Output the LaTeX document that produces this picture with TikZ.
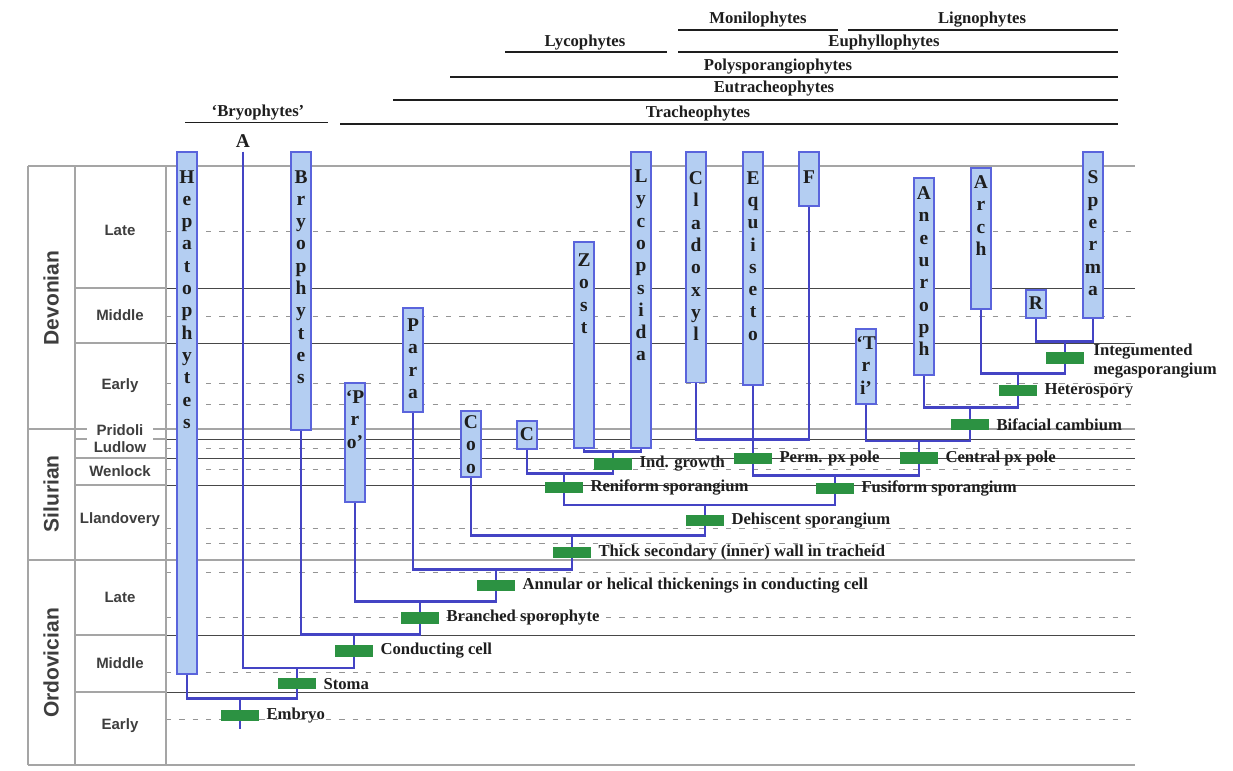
\documentclass[tikz,border=0pt]{standalone}
\usepackage{fontspec}
\setmainfont{Liberation Serif}
\setsansfont{Liberation Sans}
\definecolor{stemblue}{RGB}{68,68,196}
\definecolor{boxblue}{RGB}{90,100,220}
\definecolor{boxfill}{RGB}{180,206,242}
\definecolor{mkgreen}{RGB}{44,146,66}
\definecolor{gridgray}{RGB}{165,165,165}
\definecolor{inkdark}{RGB}{30,30,30}
\definecolor{colgray}{RGB}{62,62,62}
\newcommand\taxonbox[6]{%
  \pgfmathsetmacro\tbh{(#4-#3)*0.75}%
  \node[tbox, minimum height=\tbh pt, anchor=north] (#1) at (#2,#3) {};
  \foreach \ltr [count=\nn from 0] in {#6}{%
    \node[tlet] at (#2,#5+6.5+\nn*22.3) {\ltr};
  }%
}
\begin{document}
\begin{tikzpicture}[x=0.75pt,y=-0.75pt,
  stem/.style={draw=stemblue, line width=2.2pt},
  tbox/.style={draw=boxblue, fill=boxfill, line width=1.3pt, minimum width=15pt, inner sep=0pt},
  tlet/.style={font=\bfseries\fontsize{14.6}{16}\selectfont, anchor=base, inner sep=0pt, text=inkdark},
  mk/.style={fill=mkgreen, minimum width=28.5pt, minimum height=8.6pt, inner sep=0pt},
  lab/.style={font=\bfseries\fontsize{12.5}{14.25}\selectfont, anchor=west, inner sep=0pt, xshift=5.25pt, text=inkdark},
  hdr/.style={font=\bfseries\fontsize{12.5}{15}\selectfont, inner sep=0pt, text=inkdark},
  hline/.style={draw=inkdark, line width=1.1pt},
  gthick/.style={draw=gridgray, line width=2.2pt},
  gcol/.style={draw=gridgray, line width=1.6pt},
  gthin/.style={draw=black!72, line width=0.7pt},
  gdash/.style={draw=black!42, line width=0.7pt, dash pattern=on 4pt off 6pt},
  eplab/.style={font=\sffamily\bfseries\fontsize{11.25}{13}\selectfont, text=colgray},
  perlab/.style={font=\sffamily\bfseries\fontsize{15.75}{18}\selectfont, text=colgray, rotate=90}
]
\useasboundingbox (0,0) rectangle (1233,771);
\fill[white] (0,0) rectangle (1233,771);

% ---------------- time grid ----------------
\foreach \yy in {231,316,383,404,448,469,528,543,572,617,672,719}
  \draw[gdash] (166,\yy) -- (1135,\yy);
\foreach \yy in {288,343,439,458,485,635,692}{
  \draw[gcol] (75,\yy) -- (166,\yy);
  \draw[gthin] (166,\yy) -- (1135,\yy);
}
\foreach \yy in {166,429,560,765}
  \draw[gthick] (28,\yy) -- (1135,\yy);
\foreach \xx in {28,75,166}
  \draw[gcol] (\xx,166) -- (\xx,765);

\node[perlab] (pDev) at (51,298) {Devonian};
\node[perlab] (pSil) at (51,494) {Silurian};
\node[perlab] (pOrd) at (51,663) {Ordovician};
\node[eplab] (eDL) at (120,230) {Late};
\node[eplab] (eDM) at (120,315) {Middle};
\node[eplab] (eDE) at (120,386) {Early};
\node[eplab, fill=white, inner xsep=7.5pt, inner ysep=3.5pt] (ePr) at (120,430.5) {Pridoli};
\node[eplab] (eLu) at (120,447) {Ludlow};
\node[eplab] (eWe) at (120,471) {Wenlock};
\node[eplab] (eLl) at (120,520) {Llandovery};
\node[eplab] (eOL) at (120,597) {Late};
\node[eplab] (eOM) at (120,663) {Middle};
\node[eplab] (eOE) at (120,726) {Early};

% ---------------- clade headers ----------------
\node[hdr] (hBry) at (258,113) {‘Bryophytes’};
\draw[hline] (185,122.5) -- (328,122.5);
\node[hdr] (hLyc) at (585,43) {Lycophytes};
\draw[hline] (505,52) -- (667,52);
\node[hdr] (hMon) at (758,19.5) {Monilophytes};
\draw[hline] (678,30) -- (838,30);
\node[hdr] (hLig) at (982,19.5) {Lignophytes};
\draw[hline] (848,30) -- (1118,30);
\node[hdr] (hEup) at (884,42.6) {Euphyllophytes};
\draw[hline] (678,52) -- (1118,52);
\node[hdr] (hPol) at (778,67) {Polysporangiophytes};
\draw[hline] (450,77) -- (1118,77);
\node[hdr] (hEut) at (774,89) {Eutracheophytes};
\draw[hline] (393,100) -- (1118,100);
\node[hdr] (hTra) at (698,113.5) {Tracheophytes};
\draw[hline] (340,124) -- (1118,124);

% ---------------- internal nodes ----------------
\coordinate (root) at (240,728.6);
\coordinate (emb) at (240,698.5);
\coordinate (sto) at (297,668);
\coordinate (con) at (354,634.7);
\coordinate (bra) at (420,601.7);
\coordinate (ann) at (496,569.7);
\coordinate (thi) at (572,535.2);
\coordinate (deh) at (705,505);
\coordinate (ren) at (564,473.5);
\coordinate (ind) at (613,451.8);
\coordinate (cf) at (753,439.6);
\coordinate (fus) at (835,475.3);
\coordinate (cen) at (919,441);
\coordinate (bif) at (970,407.3);
\coordinate (het) at (1018,373.5);
\coordinate (int) at (1065,341.8);
\node[tlet, anchor=center] (alab) at (243,141.5) {A};
\coordinate (atop) at (243,151.5);

% ---------------- taxon boxes ----------------
\taxonbox{hep}{187}{151}{673}{176.5}{H,e,p,a,t,o,p,h,y,t,e,s}
\taxonbox{bryo}{301}{151}{429}{176.5}{B,r,y,o,p,h,y,t,e,s}
\taxonbox{pro}{355}{382}{501}{397}{‘P,r,o’}
\taxonbox{para}{413}{307}{411}{325}{P,a,r,a}
\taxonbox{coo}{471}{410}{476}{422}{C,o,o}
\taxonbox{cbox}{527}{420}{448}{434}{C}
\taxonbox{zost}{584}{241}{447}{260}{Z,o,s,t}
\taxonbox{lyc}{641}{151}{447}{176}{L,y,c,o,p,s,i,d,a}
\taxonbox{clad}{696}{151}{381.5}{178}{C,l,a,d,o,x,y,l}
\taxonbox{equi}{753}{151}{384}{177.6}{E,q,u,i,s,e,t,o}
\taxonbox{fbox}{809}{151}{205}{177}{F}
\taxonbox{tri}{866}{328}{403}{343}{‘T,r,i’}
\taxonbox{aneu}{924}{177}{374}{193}{A,n,e,u,r,o,p,h}
\taxonbox{arch}{981}{167}{308}{182}{A,r,c,h}
\taxonbox{rbox}{1036}{289}{317}{303}{R}
\taxonbox{sperma}{1093}{151}{317}{177.4}{S,p,e,r,m,a}

% ---------------- tree connectors ----------------
\draw[stem] (emb) -- (root);
\draw[stem] (hep.south) |- (emb) -| (sto);
\draw[stem] (atop) |- (sto) -| (con);
\draw[stem] (bryo.south) |- (con) -| (bra);
\draw[stem] (pro.south) |- (bra) -| (ann);
\draw[stem] (para.south) |- (ann) -| (thi);
\draw[stem] (coo.south) |- (thi) -| (deh);
\draw[stem] (ren) |- (deh) -| (fus);
\draw[stem] (cbox.south) |- (ren) -| (ind);
\draw[stem] (zost.south) |- (ind) -| (lyc.south);
\draw[stem] (clad.south) |- (cf) -| (fbox.south);
\draw[stem] (equi.south) |- (fus) -| (cen);
\draw[stem] (tri.south) |- (cen) -| (bif);
\draw[stem] (aneu.south) |- (bif) -| (het);
\draw[stem] (arch.south) |- (het) -| (int);
\draw[stem] (rbox.south) |- (int) -| (sperma.south);

% ---------------- character markers ----------------
\node[mk] (mEmb) at (240,715.6) {};  \node[lab] (lEmb) at (mEmb.east) {Embryo};
\node[mk] (mSto) at (297,683.7) {};  \node[lab] (lSto) at (mSto.east) {Stoma};
\node[mk] (mCon) at (354,650.8) {};  \node[lab] (lCon) at (mCon.east) {Conducting cell};
\node[mk] (mBra) at (420,617.8) {};  \node[lab] (lBra) at (mBra.east) {Branched sporophyte};
\node[mk] (mAnn) at (496,585.6) {};  \node[lab] (lAnn) at (mAnn.east) {Annular or helical thickenings in conducting cell};
\node[mk] (mThi) at (572,552.4) {};  \node[lab] (lThi) at (mThi.east) {Thick secondary (inner) wall in tracheid};
\node[mk] (mDeh) at (705,520.4) {};  \node[lab] (lDeh) at (mDeh.east) {Dehiscent sporangium};
\node[mk] (mRen) at (564,487.6) {};  \node[lab] (lRen) at (mRen.east) {Reniform sporangium};
\node[mk] (mInd) at (613,463.8) {};  \node[lab] (lInd) at (mInd.east) {Ind. growth};
\node[mk] (mPer) at (753,458.7) {};  \node[lab] (lPer) at (mPer.east) {Perm. px pole};
\node[mk] (mFus) at (835,488.3) {};  \node[lab] (lFus) at (mFus.east) {Fusiform sporangium};
\node[mk] (mCen) at (919,458) {};    \node[lab] (lCen) at (mCen.east) {Central px pole};
\node[mk] (mBif) at (970,424.3) {};  \node[lab] (lBif) at (mBif.east) {Bifacial cambium};
\node[mk] (mHet) at (1018,390.5) {}; \node[lab] (lHet) at (mHet.east) {Heterospory};
\node[mk] (mInt) at (1065,357.8) {};
\node[lab, align=left, xshift=1.5pt, yshift=-2.4pt] (lInt) at (mInt.east) {Integumented\\megasporangium};
\end{tikzpicture}
\end{document}
